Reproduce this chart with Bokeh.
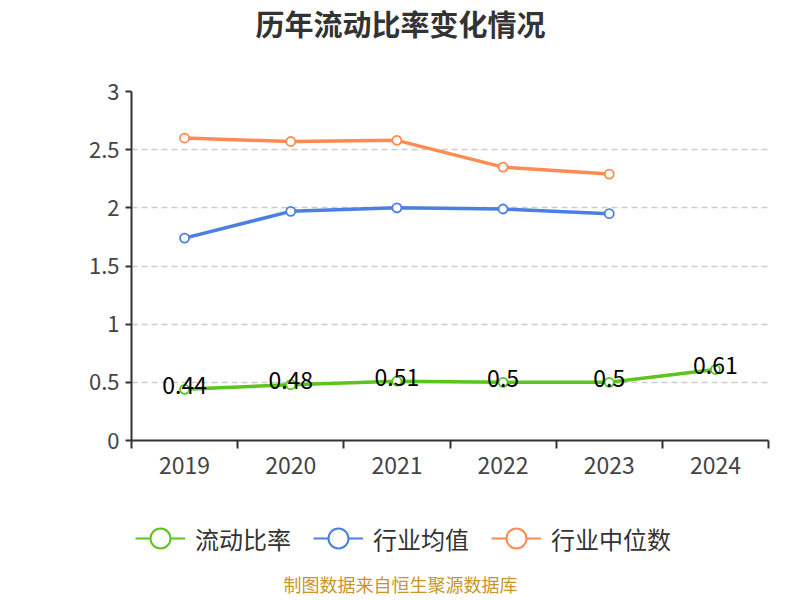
from bokeh.plotting import figure
from bokeh.layouts import column
from bokeh.models import (FixedTicker, Range1d, Legend, LegendItem, ColumnDataSource)
from bokeh.core.properties import value
from bokeh.embed import file_html
from bokeh.resources import INLINE

title_text = "历年流动比率变化情况"
years = ["2019", "2020", "2021", "2022", "2023", "2024"]
ratio = [0.44, 0.48, 0.51, 0.50, 0.50, 0.61]
ratio_labels = ["0.44", "0.48", "0.51", "0.5", "0.5", "0.61"]
ind_mean = [1.74, 1.97, 2.00, 1.99, 1.95]
ind_median = [2.60, 2.57, 2.58, 2.35, 2.29]
y_ticks = [0, 0.5, 1, 1.5, 2, 2.5, 3]
y_tick_labels = ["0", "0.5", "1", "1.5", "2", "2.5", "3"]
series_names = ["流动比率", "行业均值", "行业中位数"]
source_note = "制图数据来自恒生聚源数据库"

GREEN = "#5bc51e"
BLUE = "#4a80e2"
ORANGE = "#ff8b52"
COLORS = [GREEN, BLUE, ORANGE]
FONT = "Noto Sans CJK SC"
W = 784
FL, FR = 131, 768   # frame left/right in page pixels (frames are aligned in the column)

xs = [i + 0.5 for i in range(len(years))]

def blank(h):
    f = figure(width=W, height=h, output_backend="svg", toolbar_location=None,
               x_range=Range1d(FL, FR), y_range=Range1d(0, h), min_border=0,
               min_border_left=FL, min_border_right=W - FR, min_border_top=0, min_border_bottom=0,
               x_axis_location=None, y_axis_location=None)
    f.grid.visible = False
    f.outline_line_color = None
    return f

# title panel
H1 = 60
t = blank(H1)
tsrc = ColumnDataSource(dict(x=[400], y=[H1 - 22], t=[title_text]))
t.text(x="x", y="y", text="t", source=tsrc, text_align="center", text_baseline="middle",
       text_font=value(FONT), text_font_size="29px", text_font_style="bold",
       text_color="#333333")

# main chart
p = figure(width=W, height=438, output_backend="svg", toolbar_location=None,
           x_range=Range1d(0, 6), y_range=Range1d(0, 3),
           min_border_left=FL, min_border_right=W - FR, min_border_top=31, min_border_bottom=58)
p.outline_line_color = None
p.background_fill_color = "white"

p.xaxis.ticker = FixedTicker(ticks=xs, minor_ticks=list(range(7)))
p.xaxis.major_label_overrides = {x: y for x, y in zip(xs, years)}
p.xaxis.major_tick_line_color = None
p.xaxis.minor_tick_line_color = "#333333"
p.xaxis.minor_tick_out = 8
p.xaxis.minor_tick_in = 0
p.xaxis.minor_tick_line_width = 2
p.xaxis.axis_line_color = "#333333"
p.xaxis.axis_line_width = 2
p.xaxis.major_label_text_font = FONT
p.xaxis.major_label_text_font_size = "23px"
p.xaxis.major_label_text_color = "#444444"
p.xaxis.major_label_standoff = 8

p.yaxis.ticker = FixedTicker(ticks=y_ticks, minor_ticks=[])
p.yaxis.major_label_overrides = {tk: lb for tk, lb in zip(y_ticks, y_tick_labels)}
p.yaxis.axis_line_color = "#333333"
p.yaxis.axis_line_width = 2
p.yaxis.major_tick_line_color = "#333333"
p.yaxis.major_tick_out = 6
p.yaxis.major_tick_in = 0
p.yaxis.major_tick_line_width = 2
p.yaxis.minor_tick_line_color = None
p.yaxis.major_label_text_font = FONT
p.yaxis.major_label_text_font_size = "22px"
p.yaxis.major_label_text_color = "#444444"
p.yaxis.major_label_standoff = 6

p.xgrid.grid_line_color = None
p.ygrid.ticker = FixedTicker(ticks=y_ticks[1:])
p.ygrid.grid_line_color = "#cccccc"
p.ygrid.grid_line_dash = "6 4"
p.ygrid.grid_line_width = 1.5

def series(xv, yv, color):
    p.line(xv, yv, line_color=color, line_width=3.5)
    p.scatter(xv, yv, marker="circle", size=9, fill_color="white",
              line_color=color, line_width=1.8)

series(xs, ratio, GREEN)
series(xs[:5], ind_mean, BLUE)
series(xs[:5], ind_median, ORANGE)

src = ColumnDataSource(dict(x=xs, y=ratio, t=ratio_labels))
p.text(x="x", y="y", text="t", source=src, text_align="center", text_baseline="middle",
       text_font=value(FONT), text_font_size="23px", text_color="#000000", y_offset=-4)

# legend + source note panel
H2 = 100
q = blank(H2)
items = []
for name, c in zip(series_names, COLORS):
    l = q.line([-100, -90], [-100, -100], line_color=c, line_width=2)
    s = q.scatter([-100], [-100], marker="circle", size=22, fill_color="white",
                  line_color=c, line_width=2)
    items.append(LegendItem(label=name, renderers=[l, s]))

legend = Legend(items=items, orientation="horizontal", location=(4, H2 - 40 - 26),
                label_text_font=FONT, label_text_font_size="24px", label_text_color="#333333",
                glyph_width=50, glyph_height=52, spacing=22, label_standoff=10,
                border_line_color=None, background_fill_alpha=0, margin=0, padding=0)
q.add_layout(legend, "center")

nsrc = ColumnDataSource(dict(x=[400], y=[2], t=[source_note]))
q.text(x="x", y="y", text="t", source=nsrc, text_align="center", text_baseline="bottom",
       text_font=value(FONT), text_font_size="18px", text_color="#c8952a")

layout = column(t, p, q, spacing=0)
open("out.html", "w").write(file_html(layout, INLINE))
